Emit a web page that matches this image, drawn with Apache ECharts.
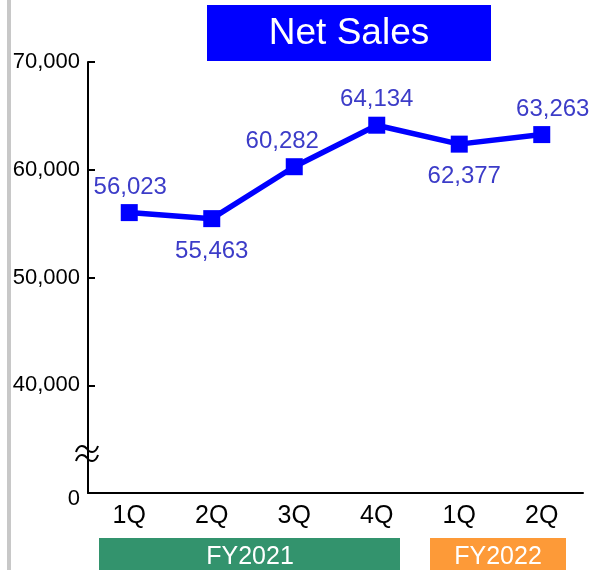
<!DOCTYPE html>
<html><head><meta charset="utf-8">
<script src="https://cdn.jsdelivr.net/npm/echarts@6/dist/echarts.min.js"></script>
<style>html,body{margin:0;padding:0;background:#fff}#c{width:590px;height:570px}</style>
</head><body><div id="c"></div>
<script>
const categories = ['1Q','2Q','3Q','4Q','1Q','2Q'];
const netSales = [56023, 55463, 60282, 64134, 62377, 63263];
const labelPos = ['top','bottom','top','top','bottom','top'];
const labelOffsetX = [1, 0, -12, 0, 5, 11];
const yTicks = [30000, 40000, 50000, 60000, 70000];
const yTickLabels = ['0','40,000','50,000','60,000','70,000'];
const fiscalYears = ['FY2021','FY2022'];

const font = 'Liberation Sans, Arial, sans-serif';
const chart = echarts.init(document.getElementById('c'));

function squiggle(y){
  return [
    {type:'bezierCurve',shape:{x1:76,y1:y+3,cpx1:79,cpy1:y-6,cpx2:85,cpy2:y-3,x2:87,y2:y},style:{fill:null,stroke:'#000',lineWidth:2}},
    {type:'bezierCurve',shape:{x1:87,y1:y,cpx1:89,cpy1:y+3,cpx2:95,cpy2:y+6,x2:98,y2:y-3},style:{fill:null,stroke:'#000',lineWidth:2}}
  ];
}

chart.setOption({
  animation:false,
  grid:{left:88,right:7,top:62,bottom:77,containLabel:false},
  xAxis:{type:'category',data:categories,boundaryGap:true,
    axisLine:{lineStyle:{color:'#000',width:2}},
    axisTick:{inside:true,length:7,lineStyle:{color:'#000',width:2}},
    axisLabel:{color:'#000',fontSize:25,fontFamily:font,margin:11}},
  yAxis:{type:'value',min:30000,max:70000,interval:10000,
    axisLine:{show:true,lineStyle:{color:'#000',width:2}},
    axisTick:{show:true,inside:true,length:7,lineStyle:{color:'#000',width:2}},
    splitLine:{show:false},
    axisLabel:{color:'#000',fontSize:22,fontFamily:font,margin:8,
      rich:{z:{fontSize:22,fontFamily:font,color:'#000',padding:[11,0,0,0]}},
      formatter:v=>{const i=yTicks.indexOf(v);if(i<0)return '';return i===0?'{z|'+yTickLabels[i]+'}':yTickLabels[i];}}},
  series:[{type:'line',
    data:netSales.map((v,i)=>({value:v,label:{position:labelPos[i],offset:[labelOffsetX[i],0],distance:labelPos[i]==='top'?5:12}})),
    symbol:'rect',symbolSize:17,
    lineStyle:{color:'#0000ff',width:5.5},
    itemStyle:{color:'#0000ff'},
    label:{show:true,color:'#3c3cc8',fontSize:24,fontFamily:font,
      formatter:p=>p.value.toLocaleString('en-US')}}],
  graphic:[
    {type:'rect',shape:{x:7,y:0,width:4,height:570},style:{fill:'#c8c8c8'}},
    {type:'rect',shape:{x:207,y:5,width:284,height:56},style:{fill:'#0000ff'}},
    {type:'text',x:349,y:34,style:{text:'Net Sales',fill:'#fff',fontSize:37,fontFamily:font,align:'center',verticalAlign:'middle'}},
    {type:'rect',shape:{x:99,y:538,width:301,height:32},style:{fill:'#33936d'}},
    {type:'text',x:250,y:557,style:{text:fiscalYears[0],fill:'#fff',fontSize:25,fontFamily:font,align:'center',verticalAlign:'middle'}},
    {type:'rect',shape:{x:430,y:538,width:136,height:32},style:{fill:'#fd9a38'}},
    {type:'text',x:498,y:557,style:{text:fiscalYears[1],fill:'#fff',fontSize:25,fontFamily:font,align:'center',verticalAlign:'middle'}},
    ...squiggle(449),
    ...squiggle(458)
  ]
});
</script></body></html>
